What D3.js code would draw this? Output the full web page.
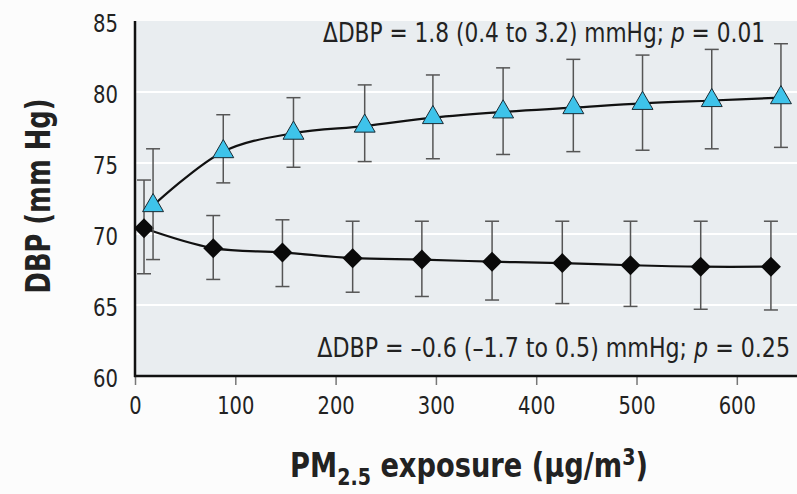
<!DOCTYPE html>
<html><head><meta charset="utf-8">
<script src="https://cdn.jsdelivr.net/npm/d3@7"></script>
<style>
html,body{margin:0;padding:0;background:#fcfcfc;}
text{font-family:"DejaVu Sans Condensed","DejaVu Sans","Roboto",sans-serif;fill:#222;}
</style></head>
<body><svg id="c" width="797" height="494"></svg>
<script>
// Exposed group (triangles)
const xTri = [18, 88, 158, 229, 297, 367, 437, 506, 575, 644];
const yTri = [72.0, 75.8, 77.1, 77.6, 78.2, 78.6, 78.9, 79.2, 79.4, 79.6];
const loTri = [68.2, 73.6, 74.7, 75.1, 75.3, 75.6, 75.8, 75.9, 76.0, 76.1];
const hiTri = [76.0, 78.4, 79.6, 80.5, 81.2, 81.7, 82.3, 82.6, 83.0, 83.4];
// Reference group (diamonds)
const xDia = [9, 78, 147, 217, 286, 356, 426, 494, 564, 634];
const yDia = [70.4, 69.0, 68.7, 68.3, 68.2, 68.05, 67.95, 67.8, 67.7, 67.7];
const loDia = [67.2, 66.8, 66.3, 65.9, 65.6, 65.35, 65.1, 64.9, 64.7, 64.65];
const hiDia = [73.8, 71.3, 71.0, 70.9, 70.9, 70.9, 70.9, 70.9, 70.9, 70.9];
const xTicks = [0, 100, 200, 300, 400, 500, 600];
const yTicks = [60, 65, 70, 75, 80, 85];
const gridVals = [65, 70, 75, 80];
const annotTop = "ΔDBP = 1.8 (0.4 to 3.2) mmHg; ";
const annotTopP = " = 0.01";
const annotBot = "ΔDBP = –0.6 (–1.7 to 0.5) mmHg; ";
const annotBotP = " = 0.25";

const svg = d3.select("#c");
const L = 135, R = 797, T = 21, B = 376;
const x = d3.scaleLinear().domain([0, 660]).range([L, R]);
const y = d3.scaleLinear().domain([60, 85]).range([B, T]);

svg.append("rect").attr("x", L).attr("y", T).attr("width", R - L).attr("height", B - T).attr("fill", "#e9edf0");
svg.selectAll(".grid").data(gridVals).enter().append("line")
  .attr("x1", L).attr("x2", R).attr("y1", d => y(d)).attr("y2", d => y(d))
  .attr("stroke", "#ffffff").attr("stroke-width", 2);

// axes
const tickFont = '"DejaVu Sans Condensed","DejaVu Sans",sans-serif';
const xAxis = svg.append("g").attr("transform", `translate(0,${B})`)
  .call(d3.axisBottom(x).tickValues(xTicks).tickSize(9).tickPadding(11));
xAxis.select(".domain").remove();
xAxis.selectAll(".tick line").attr("stroke", "#777").attr("stroke-width", 1.5);
xAxis.selectAll(".tick text").attr("font-size", 25).attr("fill", "#222").style("font-family", tickFont)
  .attr("textLength", d => String(d).length * 12.4).attr("lengthAdjust", "spacingAndGlyphs");

const yAxis = svg.append("g").attr("transform", `translate(${L},0)`)
  .call(d3.axisLeft(y).tickValues(yTicks).tickSize(0).tickPadding(17));
yAxis.select(".domain").remove();
yAxis.selectAll(".tick text").attr("font-size", 25).attr("fill", "#222").style("font-family", tickFont)
  .attr("dy", "0.42em")
  .attr("textLength", 25).attr("lengthAdjust", "spacingAndGlyphs");

svg.append("line").attr("x1", L).attr("x2", L).attr("y1", T).attr("y2", B + 1).attr("stroke", "#111").attr("stroke-width", 2.5);
svg.append("line").attr("x1", L - 1).attr("x2", R).attr("y1", B).attr("y2", B).attr("stroke", "#111").attr("stroke-width", 2.5);

function series(xs, ys, los, his) {
  const g = svg.append("g");
  const pts = xs.map((d, i) => ({x: d, y: ys[i], lo: los[i], hi: his[i]}));
  const eb = g.selectAll(".eb").data(pts).enter().append("g");
  eb.append("line").attr("x1", d => x(d.x)).attr("x2", d => x(d.x)).attr("y1", d => y(d.lo)).attr("y2", d => y(d.hi))
    .attr("stroke", "#555").attr("stroke-width", 1.5);
  eb.append("line").attr("x1", d => x(d.x) - 7).attr("x2", d => x(d.x) + 7).attr("y1", d => y(d.lo)).attr("y2", d => y(d.lo))
    .attr("stroke", "#555").attr("stroke-width", 1.5);
  eb.append("line").attr("x1", d => x(d.x) - 7).attr("x2", d => x(d.x) + 7).attr("y1", d => y(d.hi)).attr("y2", d => y(d.hi))
    .attr("stroke", "#555").attr("stroke-width", 1.5);
  return {g, pts};
}
function drawLine(s) {
  s.g.append("path").datum(s.pts)
    .attr("d", d3.line().x(d => x(d.x)).y(d => y(d.y)).curve(d3.curveCatmullRom.alpha(0.5)))
    .attr("fill", "none").attr("stroke", "#111").attr("stroke-width", 2.2);
}
const sD = series(xDia, yDia, loDia, hiDia);
const sT = series(xTri, yTri, loTri, hiTri);
drawLine(sD);
drawLine(sT);
sD.g.selectAll(".m").data(sD.pts).enter().append("path")
  .attr("transform", d => `translate(${x(d.x)},${y(d.y)}) rotate(45)`)
  .attr("d", d3.symbol().type(d3.symbolSquare).size(200)())
  .attr("fill", "#0a0a0a");
sT.g.selectAll(".m").data(sT.pts).enter().append("path")
  .attr("transform", d => `translate(${x(d.x)},${y(d.y)})`)
  .attr("d", d3.symbol().type(d3.symbolTriangle).size(190)())
  .attr("fill", "#3ec3ea").attr("stroke", "#1a2a33").attr("stroke-width", 1);

// fit a text horizontally to a target width around its anchor point
function fitWidth(sel, target, ax, ay) {
  const w = sel.node().getBBox().width;
  const s = target / w;
  sel.attr("transform", `translate(${ax},${ay}) scale(${s},1) translate(${-ax},${-ay})`);
}

// annotations
const a1 = svg.append("text").attr("x", 765).attr("y", 42).attr("text-anchor", "end").attr("font-size", 26);
a1.append("tspan").text(annotTop);
a1.append("tspan").attr("font-style", "italic").text("p");
a1.append("tspan").text(annotTopP);
fitWidth(a1, 442, 765, 42);
const a2 = svg.append("text").attr("x", 790).attr("y", 357).attr("text-anchor", "end").attr("font-size", 26);
a2.append("tspan").text(annotBot);
a2.append("tspan").attr("font-style", "italic").text("p");
a2.append("tspan").text(annotBotP);
fitWidth(a2, 473, 790, 357);

// axis titles
svg.append("text").attr("transform", "translate(50,196) rotate(-90)").attr("text-anchor", "middle")
  .attr("font-size", 33).attr("font-weight", "bold")
  .attr("textLength", 195).attr("lengthAdjust", "spacingAndGlyphs").text("DBP (mm Hg)");
const xt = svg.append("text").attr("x", 469).attr("y", 477).attr("text-anchor", "middle")
  .attr("font-size", 33).attr("font-weight", "bold");
xt.append("tspan").text("PM");
xt.append("tspan").attr("font-size", 23).attr("dy", 8).text("2.5");
xt.append("tspan").attr("dy", -8).text(" exposure (µg/m");
xt.append("tspan").attr("font-size", 23).attr("dy", -12).text("3");
xt.append("tspan").attr("dy", 12).text(")");
fitWidth(xt, 358, 469, 477);
</script></body></html>
